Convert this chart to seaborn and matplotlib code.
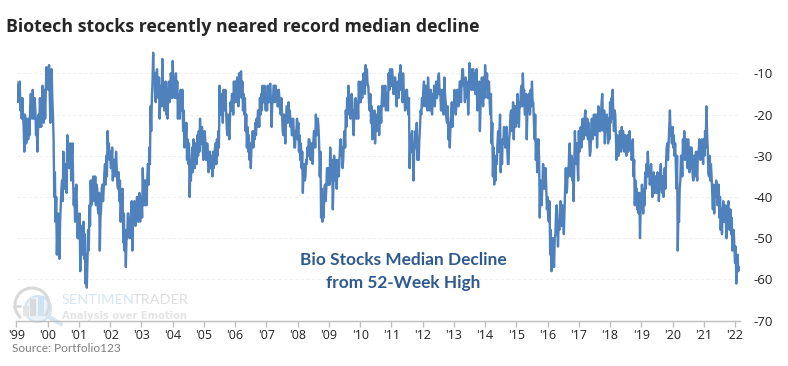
import numpy as np
import pandas as pd
import matplotlib
matplotlib.use("Agg")
import matplotlib.pyplot as plt
from matplotlib.patches import Arc, Rectangle, Circle
import seaborn as sns

# values, about weekly
y1999 = [-12,-15,-17,-13,-15,-12,-19,-16,-21,-16,-20,-23,-29,-20,-24,-27,-21,-24,-26,-21,-25,-18,-15,-19,-21,-14,-19,-21,-16,-19,-25,-21,-29,-24,-20,-23,-16,-21,-23,-18,-13,-20,-22,-14,-21,-15,-8.5,-13]
y2000 = [-9,-14,-8,-15,-22,-12,-9,-16,-20,-26,-40,-34,-46,-40,-54,-47,-44,-50,-55,-46,-42,-38,-36,-41,-29,-35,-38,-32,-34,-39,-25,-31,-27,-33,-32,-27,-36,-30,-27,-36,-42,-38,-46,-40,-37,-43,-50,-45]
y2001 = [-50,-44,-58,-48,-47,-54,-52,-46,-55,-49,-61,-54,-62,-56,-48,-53,-42,-47,-36,-42,-41,-36,-35,-41,-40,-35,-42,-37,-38,-43,-44,-39,-53,-45,-43,-38,-37,-41,-38,-34,-32,-37,-30,-35,-24,-29,-27,-31]
y2002 = [-29,-33,-32,-28,-36,-31,-31,-35,-32,-29,-33,-37,-38,-34,-41,-36,-46,-41,-43,-38,-51,-44,-53,-48,-57,-50,-50,-44,-44,-48,-50,-45,-46,-41,-53,-47,-46,-41,-42,-47,-45,-40,-40,-46,-44,-39,-46,-41]
y2003 = [-40,-45,-33,-39,-42,-36,-36,-42,-42,-35,-32,-37,-28,-32,-18,-24,-16,-12,-5,-12,-10,-16,-17,-10,-9,-15,-16,-11,-21,-15,-13,-18,-6.5,-13,-14,-19,-17,-12,-20,-14,-21,-15,-12,-17,-15,-10,-11,-16]
y2004 = [-7,-12,-11,-16,-14,-10,-16,-12,-21,-15,-16,-21,-14,-19,-19,-14,-24,-19,-28,-24,-26,-22,-31,-26,-32,-27,-40,-34,-36,-31,-28,-34,-26,-31,-33,-27,-27,-32,-25,-30,-24,-29,-21,-27,-27,-23,-27,-31]
y2005 = [-28,-24,-26,-31,-31,-27,-30,-34,-33,-29,-33,-30,-31,-35,-29,-33,-32,-28,-27,-32,-26,-30,-24,-28,-13,-20,-20,-15,-17,-22,-14,-19,-18,-14,-19,-23,-25,-20,-22,-26,-21,-17,-19,-15,-15,-20,-12,-17]
y2006 = [-12,-17,-16,-11,-13,-18,-10,-15,-14,-9.5,-16,-12,-19,-15,-20,-16,-24,-20,-28,-23,-29,-25,-31,-27,-33,-28,-27,-24,-28,-25,-26,-22,-25,-21,-23,-19,-19,-23,-16,-20,-15,-19,-13,-17,-17,-13,-16,-19]
y2007 = [-15,-19,-13,-17,-17,-13,-12.5,-17,-23,-17,-17,-13,-13,-17,-13,-16,-14,-18,-18,-14,-16,-19,-20,-16,-20,-24,-25,-20,-23,-27,-22,-18,-18,-22,-17,-21,-19,-23,-21,-25,-25,-21,-24,-28,-28,-24,-24,-21]
y2008 = [-26,-22,-29,-25,-31,-27,-33,-29,-39,-33,-32,-36,-35,-31,-32,-28,-30,-26,-26,-30,-31,-27,-28,-32,-27,-24,-24,-28,-20,-25,-24,-21,-23,-27,-35,-29,-45,-38,-46,-41,-45,-38,-37,-41,-38,-33,-33,-37]
y2009 = [-33,-37,-28,-33,-36,-31,-43,-36,-30,-35,-36,-31,-38,-33,-31,-35,-32,-28,-26,-30,-28,-33,-31,-26,-24,-28,-19,-23,-16,-20,-13,-18,-16,-21,-19,-15,-17,-22,-25,-19,-20,-16,-21,-17,-17,-21,-12,-17]
y2010 = [-13,-17,-12,-16,-13,-10,-11,-15,-8,-12,-9,-13,-13,-17,-19,-15,-22,-18,-26,-21,-23,-19,-27,-22,-20,-24,-22,-18,-25,-20,-18,-22,-16,-13,-14,-18,-17,-13,-19,-15,-15,-19,-10,-14,-9,-13]
y2011 = [-13,-9,-11,-15,-15,-11,-11,-15,-18,-13,-12,-16,-10,-14,-8,-12,-13,-17,-10,-14,-15,-19,-18,-14,-14,-18,-20,-16,-33,-27,-29,-25,-24,-29,-36,-29,-28,-24,-26,-22,-31,-27,-31,-26,-23,-19,-20,-16]
y2012 = [-18,-14,-12,-17,-18,-13,-15,-19,-11,-15,-19,-15,-14,-19,-20,-15,-17,-13,-18,-14,-12,-16,-15,-11,-10,-15,-14,-19,-19,-14,-16,-20,-11,-15,-17,-21,-22,-18,-26,-22,-28,-23,-20,-17,-23,-18]
y2013 = [-18,-14,-16,-20,-17,-14,-14,-18,-16,-12,-12,-17,-12,-9,-9,-13,-13,-17,-11,-15,-16,-12,-20,-15,-7.5,-13,-9,-14,-14,-9,-9,-14,-10,-15,-13,-9,-19,-13,-17,-12,-24,-18,-15,-11,-14,-18,-11,-16]
y2014 = [-8,-13,-14,-10,-16,-12,-12,-17,-20,-15,-27,-22,-35,-28,-37,-31,-36,-30,-32,-27,-24,-29,-24,-20,-34,-27,-32,-26,-27,-23,-24,-28,-27,-23,-28,-32,-32,-26,-24,-20,-19,-24,-21,-17,-26,-20,-18,-23]
y2015 = [-18,-22,-15,-20,-23,-17,-18,-14,-13,-18,-10,-15,-14,-20,-20,-15,-26,-19,-19,-15,-15,-20,-14,-18,-12,-17,-17,-22,-26,-20,-31,-26,-34,-28,-26,-31,-45,-36,-37,-42,-37,-32,-33,-38,-37,-33,-38,-43]
y2016 = [-40,-45,-46,-41,-54,-48,-58,-52,-50,-55,-57,-50,-49,-44,-42,-47,-52,-46,-48,-43,-41,-47,-47,-42,-44,-49,-43,-38,-33,-39,-38,-33,-35,-30,-27,-33,-35,-30,-36,-31,-41,-33,-24,-30,-32,-27,-32,-36]
y2017 = [-24,-29,-27,-23,-28,-24,-21,-26,-25,-21,-19,-25,-25,-21,-26,-22,-26,-30,-29,-24,-21,-26,-24,-20,-20,-25,-24,-20,-28,-23,-18,-24,-19,-24,-21,-17,-15,-21,-24,-19,-27,-22,-24,-20,-23,-27,-21,-26]
y2018 = [-17,-22,-16,-21,-14,-20,-24,-19,-20,-26,-31,-25,-26,-30,-28,-24,-25,-29,-23,-27,-24,-28,-29,-25,-26,-30,-29,-25,-29,-26,-24,-28,-27,-31,-30,-26,-35,-31,-42,-36,-42,-38,-43,-39,-44,-39,-50,-43]
y2019 = [-41,-37,-41,-44,-38,-42,-34,-38,-32,-35,-29,-33,-33,-37,-36,-32,-36,-40,-38,-34,-39,-35,-35,-39,-39,-34,-37,-41,-38,-34,-32,-37,-39,-35,-40,-36,-33,-38,-32,-28,-27,-31,-27,-23,-19,-25,-23,-27]
y2020 = [-23,-28,-25,-30,-27,-32,-38,-30,-53,-44,-46,-38,-36,-30,-30,-35,-26,-31,-24,-29,-31,-26,-27,-33,-26,-31,-34,-28,-33,-28,-30,-35,-36,-30,-30,-35,-29,-34,-36,-29,-30,-26,-27,-31,-30,-26,-28,-32]
y2021 = [-26,-30,-24,-28,-18,-24,-28,-34,-35,-30,-36,-32,-35,-39,-43,-37,-44,-38,-40,-36,-37,-42,-41,-37,-45,-40,-48,-43,-49,-43,-41,-46,-46,-42,-46,-50,-47,-42,-41,-47,-48,-43,-49,-45,-53,-48,-48,-52]
y2022 = [-56,-52,-61,-56,-54,-58,-57]

years = list(range(1999, 2023))
all_vals = [y1999,y2000,y2001,y2002,y2003,y2004,y2005,y2006,y2007,y2008,y2009,y2010,
            y2011,y2012,y2013,y2014,y2015,y2016,y2017,y2018,y2019,y2020,y2021,y2022]
y_ticks = [-10,-20,-30,-40,-50,-60,-70]
x_labels = ["'%02d" % (y % 100) for y in years]

xs = []
ys = []
for yr, vals in zip(years, all_vals):
    step = 1/len(vals) if len(vals) > 20 else 1/48
    for i, v in enumerate(vals):
        xs.append(yr + i*step)
        ys.append(v)
df = pd.DataFrame({"year": xs, "decline": ys})

sns.set_style("white")
plt.rcParams['font.family'] = ['Open Sans', 'DejaVu Sans']

W, H = 788, 366
fig = plt.figure(figsize=(W/100, H/100), dpi=100)

# full figure layer in pixel coords for the watermark
bg = fig.add_axes([0, 0, 1, 1], zorder=0)
bg.set_xlim(0, W)
bg.set_ylim(H, 0)
bg.axis("off")
bg.add_patch(Circle((38, 309), 13, fc="#eaf3fa", ec="#d3e5f2", lw=1.5))
bg.add_patch(Arc((32, 305), 34, 34, theta1=130, theta2=400, color="#d9d9d9", lw=2.2))
bg.add_patch(Rectangle((23, 306), 6, 10, color="#e3e3e3", lw=0))
bg.add_patch(Rectangle((30, 299), 6, 17, color="#d9d9d9", lw=0))
bg.add_patch(Rectangle((38, 296), 6, 20, color="#cfe3f2", lw=0))
bg.plot([49, 61], [317, 324], color="#d3e5f2", lw=3, solid_capstyle="round")
bg.plot([14, 20], [306, 306], color="#d9d9d9", lw=2)
bg.text(62, 300, "SENTIMEN", color="#d5e6f3", fontsize=10.4, family="Lato", va="center", ha="left")
bg.text(133, 300, "TRADER", color="#dddddd", fontsize=10.4, family="Lato", va="center", ha="left")
bg.text(62, 316, "Analysis over Emotion", color="#e4e4e4", fontsize=7.2, family="DejaVu Sans",
        weight="bold", va="center", ha="left")

x0, x1 = 16.5, 739.7
top, bottom = 48.6, 320.7
ax = fig.add_axes([x0/W, (H-bottom)/H, (x1-x0)/W, (bottom-top)/H], zorder=1)
ax.patch.set_alpha(0)

sns.lineplot(data=df, x="year", y="decline", ax=ax, color="#4f81bd", lw=1.7, errorbar=None,
             estimator=None, sort=False, zorder=3)

ax.set_xlim(1999, 2022.15)
ax.set_ylim(-70, -4)
ax.set_xlabel("")
ax.set_ylabel("")
ax.set_xticks(years)
ax.set_xticklabels(x_labels, fontsize=9, color="#222222")
ax.set_yticks(y_ticks)
ax.set_yticklabels([str(t) for t in y_ticks], fontsize=9.5, color="#222222")
ax.yaxis.tick_right()
ax.tick_params(axis="y", length=0, pad=10)
ax.tick_params(axis="x", length=4, width=1, color="#bfbfbf", pad=2, bottom=True)
ax.grid(axis="y", color="#f0f0f0", lw=0.8, ls=(0, (3, 2)))
ax.grid(axis="x", visible=False)
for s in ["top", "left", "right"]:
    ax.spines[s].set_visible(False)
ax.spines["bottom"].set_color("#bfbfbf")
ax.spines["bottom"].set_linewidth(1)

fig.text(6/W, 1-27/H, "Biotech stocks recently neared record median decline", fontsize=12.82,
         weight="bold", color="#262626", va="center", ha="left")
fig.text(403/W, 1-260/H, "Bio Stocks Median Decline", fontsize=12.4, family="Lato", weight="bold",
         color="#2f5a8f", va="center", ha="center")
fig.text(403/W, 1-283/H, "from 52-Week High", fontsize=12.4, family="Lato", weight="bold",
         color="#2f5a8f", va="center", ha="center")
fig.text(12/W, 1-349/H, "Source: Portfolio123", fontsize=8.6, family="Lato", color="#7f7f7f", va="center", ha="left")

fig.savefig("out.png", dpi=100)
